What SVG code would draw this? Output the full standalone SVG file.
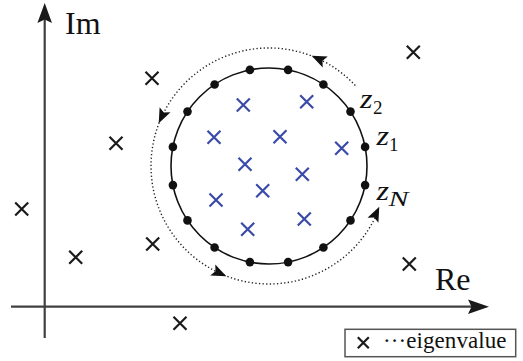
<svg xmlns="http://www.w3.org/2000/svg" xmlns:xlink="http://www.w3.org/1999/xlink" width="523" height="361" viewBox="0 0 523 361">
<style>
.axis{stroke:#404040;stroke-width:2.2;fill:none}
.axhead{fill:#1a1a1a}
.contour{stroke:#111;stroke-width:1.6;fill:none}
.dotted{stroke:#222;stroke-width:1.4;fill:none;stroke-dasharray:1.3 2.3}
.pt{fill:#111}
.xk{stroke:#1a1a1a;stroke-width:2.2;fill:none}
.xb{stroke:#3a4aa8;stroke-width:2.2;fill:none}
text{font-family:"Liberation Serif","Times New Roman",serif;fill:#111}
.zi{font-style:italic}
.legend{stroke:#555;stroke-width:1.5;fill:#fff}
</style>
<defs>
<path id="cross" d="M-6.5,-6.5 L6.5,6.5 M-6.5,6.5 L6.5,-6.5"/>
<path id="crossS" d="M-5.5,-5.5 L5.5,5.5 M-5.5,5.5 L5.5,-5.5"/>
<path id="ah" d="M8,0 L-7,-6 L-4,0 L-7,6 Z"/>
</defs>

<g id="axes">
<path class="axis" d="M44.7,338 V19"/>
<path class="axhead" d="M44.7,3 L52,23 L44.7,19.5 L37.4,23 Z"/>
<path class="axis" d="M11,306.7 H474"/>
<path class="axhead" d="M489,306.7 L468,299.4 L471.5,306.7 L468,314 Z"/>
<text x="65" y="33.5" font-size="32">Im</text>
<text x="435" y="289.5" font-size="32">Re</text>
</g>

<g id="contour">
<circle class="contour" cx="269" cy="166" r="98"/>
<g class="pt">
<circle cx="365.1" cy="146.9" r="4.3"/>
<circle cx="350.5" cy="111.6" r="4.3"/>
<circle cx="323.4" cy="84.5" r="4.3"/>
<circle cx="288.1" cy="69.9" r="4.3"/>
<circle cx="249.9" cy="69.9" r="4.3"/>
<circle cx="214.6" cy="84.5" r="4.3"/>
<circle cx="187.5" cy="111.6" r="4.3"/>
<circle cx="172.9" cy="146.9" r="4.3"/>
<circle cx="172.9" cy="185.1" r="4.3"/>
<circle cx="187.5" cy="220.4" r="4.3"/>
<circle cx="214.6" cy="247.5" r="4.3"/>
<circle cx="249.9" cy="262.1" r="4.3"/>
<circle cx="288.1" cy="262.1" r="4.3"/>
<circle cx="323.4" cy="247.5" r="4.3"/>
<circle cx="350.5" cy="220.4" r="4.3"/>
<circle cx="365.1" cy="185.1" r="4.3"/>
</g>
</g>

<g id="connectors">
<path class="dotted" d="M355.3,85.5 A118,118 0 1 0 378.4,210.2"/>
<use href="#ah" xlink:href="#ah" transform="translate(318.9,59.1) rotate(-155)" fill="#111"/>
<use href="#ah" xlink:href="#ah" transform="translate(162.1,116.1) rotate(115)" fill="#111"/>
<use href="#ah" xlink:href="#ah" transform="translate(219.1,272.9) rotate(25)" fill="#111"/>
<use href="#ah" xlink:href="#ah" transform="translate(375.9,213.9) rotate(-65)" fill="#111"/>
</g>

<g id="labels-z">
<text class="zi" x="360" y="107.5" font-size="27" textLength="12.5" lengthAdjust="spacingAndGlyphs">z</text>
<text x="373" y="113.5" font-size="19">2</text>
<text class="zi" x="376.5" y="144.5" font-size="27" textLength="12.5" lengthAdjust="spacingAndGlyphs">z</text>
<text x="389" y="150.5" font-size="19">1</text>
<text class="zi" x="376.5" y="199.5" font-size="27" textLength="12.5" lengthAdjust="spacingAndGlyphs">z</text>
<text class="zi" x="388.5" y="206" font-size="21" textLength="20" lengthAdjust="spacingAndGlyphs">N</text>
</g>

<g id="inner-eigenvalues" class="xb">
<use href="#cross" xlink:href="#cross" x="243.3" y="105"/>
<use href="#cross" xlink:href="#cross" x="306.7" y="101.7"/>
<use href="#cross" xlink:href="#cross" x="214" y="137.3"/>
<use href="#cross" xlink:href="#cross" x="280" y="136.7"/>
<use href="#cross" xlink:href="#cross" x="341.7" y="148.3"/>
<use href="#cross" xlink:href="#cross" x="245" y="164.3"/>
<use href="#cross" xlink:href="#cross" x="302.3" y="174.3"/>
<use href="#cross" xlink:href="#cross" x="262.7" y="190.7"/>
<use href="#cross" xlink:href="#cross" x="216" y="200"/>
<use href="#cross" xlink:href="#cross" x="304.3" y="219"/>
<use href="#cross" xlink:href="#cross" x="247.7" y="229.3"/>
</g>

<g id="outer-eigenvalues" class="xk">
<use href="#cross" xlink:href="#cross" x="152" y="78.3"/>
<use href="#cross" xlink:href="#cross" x="413.3" y="52.3"/>
<use href="#cross" xlink:href="#cross" x="116" y="143.3"/>
<use href="#cross" xlink:href="#cross" x="21.7" y="209"/>
<use href="#cross" xlink:href="#cross" x="75.7" y="257.3"/>
<use href="#cross" xlink:href="#cross" x="152.7" y="244"/>
<use href="#cross" xlink:href="#cross" x="409.3" y="264"/>
<use href="#cross" xlink:href="#cross" x="180" y="323.3"/>
</g>

<g id="legend">
<rect class="legend" x="345" y="329.3" width="170.7" height="27.4"/>
<use class="xk" href="#crossS" xlink:href="#crossS" x="363.3" y="342.7"/>
<text x="383" y="348.3" font-size="23" textLength="123.5">···eigenvalue</text>
</g>
</svg>
